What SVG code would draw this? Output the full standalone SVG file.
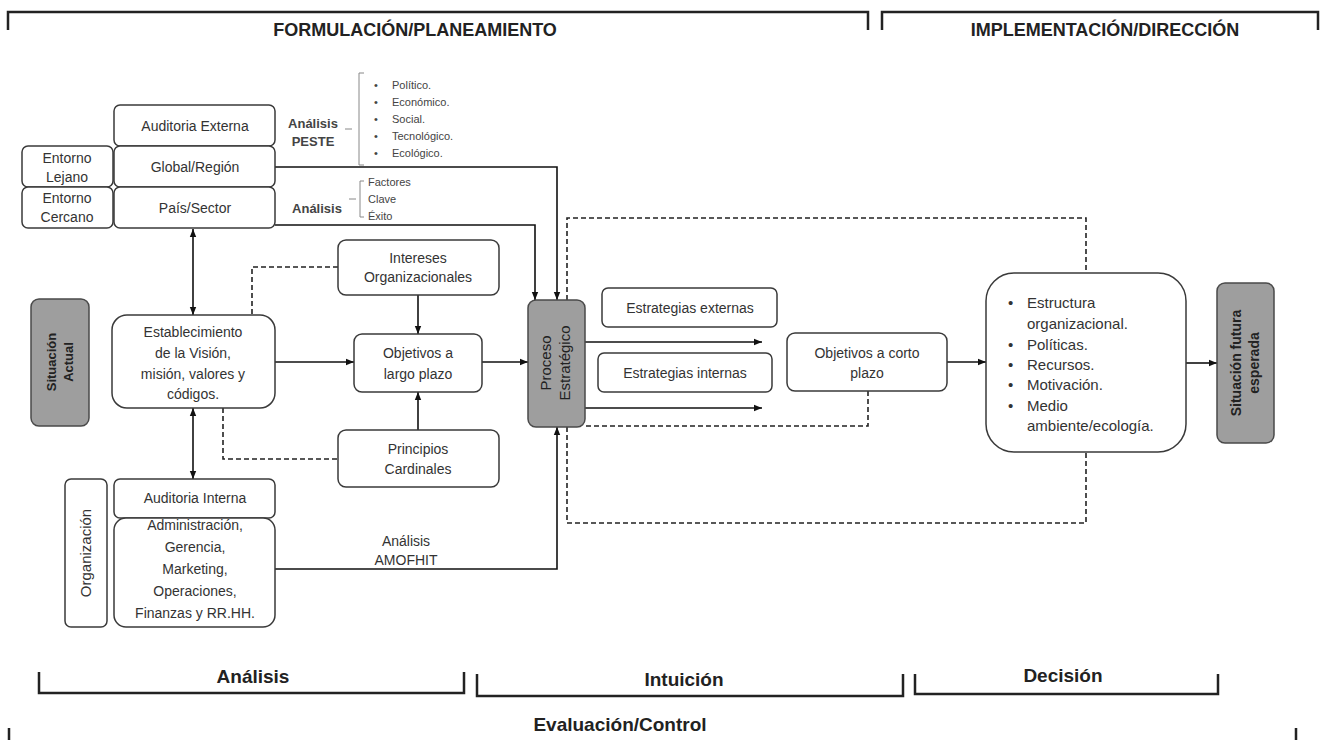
<svg xmlns="http://www.w3.org/2000/svg" width="1323" height="740" viewBox="0 0 1323 740">
<defs>
<marker id="ah" viewBox="0 0 10 10" refX="10" refY="5" markerWidth="8" markerHeight="8" markerUnits="userSpaceOnUse" orient="auto-start-reverse"><path d="M0,1 L10,5 L0,9 z" fill="#111"/></marker>
<style>
text{font-family:"Liberation Sans",Arial,sans-serif;fill:#333;}
.box{fill:#fff;stroke:#3a3a3a;stroke-width:1.5;}
.gray{fill:#9e9e9e;stroke:#4a4a4a;stroke-width:1.5;}
.t{font-size:14px;text-anchor:middle;}
.tl{font-size:15px;}
.sm{font-size:11px;fill:#444;}
.ttl{font-size:18px;font-weight:bold;text-anchor:middle;fill:#222;}
.lbl{font-size:19px;font-weight:bold;text-anchor:middle;fill:#222;}
.br{fill:none;stroke:#222;stroke-width:2.5;}
.ln{fill:none;stroke:#111;stroke-width:1.6;}
.arr{fill:none;stroke:#111;stroke-width:1.6;marker-end:url(#ah);}
.dbl{fill:none;stroke:#111;stroke-width:1.6;marker-end:url(#ah);marker-start:url(#ah);}
.dash{fill:none;stroke:#222;stroke-width:1.6;stroke-dasharray:5,3;}
.thin{fill:none;stroke:#888;stroke-width:1;}
</style>
</defs>
<rect width="1323" height="740" fill="#fff"/>

<g id="brackets">
<path class="br" d="M8,30 V12 H868 V30"/>
<path class="br" d="M882,30 V12 H1318 V30"/>
<text class="ttl" x="415" y="36">FORMULACIÓN/PLANEAMIENTO</text>
<text class="ttl" x="1105" y="36">IMPLEMENTACIÓN/DIRECCIÓN</text>
<path class="br" d="M39,672 V693 H464 V672"/>
<path class="br" d="M477,674 V696 H903 V674"/>
<path class="br" d="M915,674 V694 H1218 V674"/>
<path class="br" d="M9,728 V742 H1296 V728"/>
<text class="lbl" x="253" y="683">Análisis</text>
<text class="lbl" x="684" y="686">Intuición</text>
<text class="lbl" x="1063" y="682">Decisión</text>
<text class="lbl" x="620" y="731">Evaluación/Control</text>
</g>

<g id="connectors">
<path class="arr" d="M275,167 H557 V300"/>
<path class="arr" d="M275,225 H535 V300"/>
<path class="dbl" d="M193,229 V315"/>
<path class="dbl" d="M193,408 V479"/>
<path class="arr" d="M275,362 H354"/>
<path class="arr" d="M418,295 V334"/>
<path class="arr" d="M418,430 V392"/>
<path class="arr" d="M482,362 H528"/>
<path class="dash" d="M338,267 H252 V315"/>
<path class="dash" d="M223,408 V459 H338"/>
<path class="arr" d="M585,342 H762"/>
<path class="arr" d="M585,408 H762"/>
<path class="arr" d="M947,362 H986"/>
<path class="arr" d="M1186,363 H1217"/>
<path class="dash" d="M567,300 V218 H1086 V273"/>
<path class="dash" d="M567,427 V523 H1086 V452"/>
<path class="dash" d="M868,391 V426 H585"/>
<path class="arr" d="M275,569 H557 V427"/>
</g>

<g id="peste">
<text x="313" y="128" style="font-size:13px;font-weight:bold;text-anchor:middle;fill:#444">Análisis</text>
<text x="313" y="146" style="font-size:13px;font-weight:bold;text-anchor:middle;fill:#444">PESTE</text>
<path class="thin" d="M345,129 H352"/>
<path class="thin" d="M364,73 H359 V165 H364"/>
<text class="sm" x="374" y="89">•</text><text class="sm" x="392" y="89">Político.</text>
<text class="sm" x="374" y="106">•</text><text class="sm" x="392" y="106">Económico.</text>
<text class="sm" x="374" y="123">•</text><text class="sm" x="392" y="123">Social.</text>
<text class="sm" x="374" y="140">•</text><text class="sm" x="392" y="140">Tecnológico.</text>
<text class="sm" x="374" y="157">•</text><text class="sm" x="392" y="157">Ecológico.</text>
</g>

<g id="fce">
<text x="317" y="213" style="font-size:13px;font-weight:bold;text-anchor:middle;fill:#444">Análisis</text>
<path class="thin" d="M349,199 H356"/>
<path class="thin" d="M364,181 H360 V217 H364"/>
<text class="sm" x="368" y="186">Factores</text>
<text class="sm" x="368" y="203">Clave</text>
<text class="sm" x="368" y="220">Éxito</text>
</g>

<g id="auditoria-externa"><rect class="box" x="114" y="105" width="161" height="41" rx="6"/><text class="t" x="195" y="131">Auditoria Externa</text></g>
<g id="global"><rect class="box" x="114" y="146" width="161" height="41" rx="6"/><text class="t" x="195" y="172">Global/Región</text></g>
<g id="pais"><rect class="box" x="114" y="187" width="161" height="41" rx="6"/><text class="t" x="195" y="213">País/Sector</text></g>
<g id="entorno-lejano"><rect class="box" x="22" y="146" width="91" height="41" rx="6"/><text class="t" x="67" y="163">Entorno</text><text class="t" x="67" y="182">Lejano</text></g>
<g id="entorno-cercano"><rect class="box" x="22" y="187" width="91" height="41" rx="6"/><text class="t" x="67" y="203">Entorno</text><text class="t" x="67" y="222">Cercano</text></g>

<g id="situacion-actual"><rect class="gray" x="31" y="299" width="58" height="127" rx="8"/>
<text transform="translate(60,362) rotate(-90)" style="font-size:13px;font-weight:bold;text-anchor:middle;fill:#222"><tspan x="0" y="-4">Situación</tspan><tspan x="0" y="13">Actual</tspan></text></g>

<g id="establecimiento"><rect class="box" x="112" y="315" width="163" height="93" rx="15"/>
<text class="t" x="193" y="337">Establecimiento</text><text class="t" x="193" y="358">de la Visión,</text><text class="t" x="193" y="379">misión, valores y</text><text class="t" x="193" y="399">códigos.</text></g>

<g id="intereses"><rect class="box" x="338" y="240" width="161" height="55" rx="8"/><text class="t" x="418" y="263">Intereses</text><text class="t" x="418" y="282">Organizacionales</text></g>
<g id="objetivos-largo"><rect class="box" x="354" y="334" width="128" height="58" rx="8"/><text class="t" x="418" y="358">Objetivos a</text><text class="t" x="418" y="379">largo plazo</text></g>
<g id="principios"><rect class="box" x="338" y="430" width="161" height="57" rx="8"/><text class="t" x="418" y="454">Principios</text><text class="t" x="418" y="474">Cardinales</text></g>

<g id="organizacion"><rect class="box" x="65" y="479" width="42" height="148" rx="6"/>
<text transform="translate(91,553) rotate(-90)" style="font-size:15px;text-anchor:middle">Organización</text></g>
<g id="auditoria-interna"><rect class="box" x="114" y="479" width="161" height="39" rx="6"/><text class="t" x="195" y="503">Auditoria Interna</text></g>
<g id="areas"><rect class="box" x="114" y="518" width="161" height="109" rx="12"/>
<text class="t" x="195" y="530">Administración,</text><text class="t" x="195" y="552">Gerencia,</text><text class="t" x="195" y="574">Marketing,</text><text class="t" x="195" y="596">Operaciones,</text><text class="t" x="195" y="618">Finanzas y RR.HH.</text></g>
<g id="amofhit"><text class="t" x="406" y="546">Análisis</text><text class="t" x="406" y="565">AMOFHIT</text></g>

<g id="proceso"><rect class="gray" x="528" y="300" width="57" height="127" rx="8"/>
<text transform="translate(556,363) rotate(-90)" style="font-size:15px;text-anchor:middle;fill:#222"><tspan x="0" y="-5">Proceso</tspan><tspan x="0" y="14">Estratégico</tspan></text></g>

<g id="estrategias-externas"><rect class="box" x="602" y="288" width="175" height="39" rx="6"/><text class="t" x="690" y="313">Estrategias externas</text></g>
<g id="estrategias-internas"><rect class="box" x="598" y="353" width="174" height="39" rx="6"/><text class="t" x="685" y="378">Estrategias internas</text></g>
<g id="objetivos-corto"><rect class="box" x="787" y="333" width="160" height="58" rx="8"/><text class="t" x="867" y="358">Objetivos a corto</text><text class="t" x="867" y="378">plazo</text></g>

<g id="implementacion"><rect class="box" x="986" y="273" width="200" height="179" rx="28"/>
<text class="tl" x="1008" y="308">•</text><text class="tl" x="1027" y="308">Estructura</text>
<text class="tl" x="1027" y="329">organizacional.</text>
<text class="tl" x="1008" y="350">•</text><text class="tl" x="1027" y="350">Políticas.</text>
<text class="tl" x="1008" y="370">•</text><text class="tl" x="1027" y="370">Recursos.</text>
<text class="tl" x="1008" y="390">•</text><text class="tl" x="1027" y="390">Motivación.</text>
<text class="tl" x="1008" y="411">•</text><text class="tl" x="1027" y="411">Medio</text>
<text class="tl" x="1027" y="431">ambiente/ecología.</text></g>

<g id="situacion-futura"><rect class="gray" x="1217" y="283" width="57" height="160" rx="8"/>
<text transform="translate(1245,363) rotate(-90)" style="font-size:14px;font-weight:bold;text-anchor:middle;fill:#222"><tspan x="0" y="-4">Situación futura</tspan><tspan x="0" y="14">esperada</tspan></text></g>
</svg>
